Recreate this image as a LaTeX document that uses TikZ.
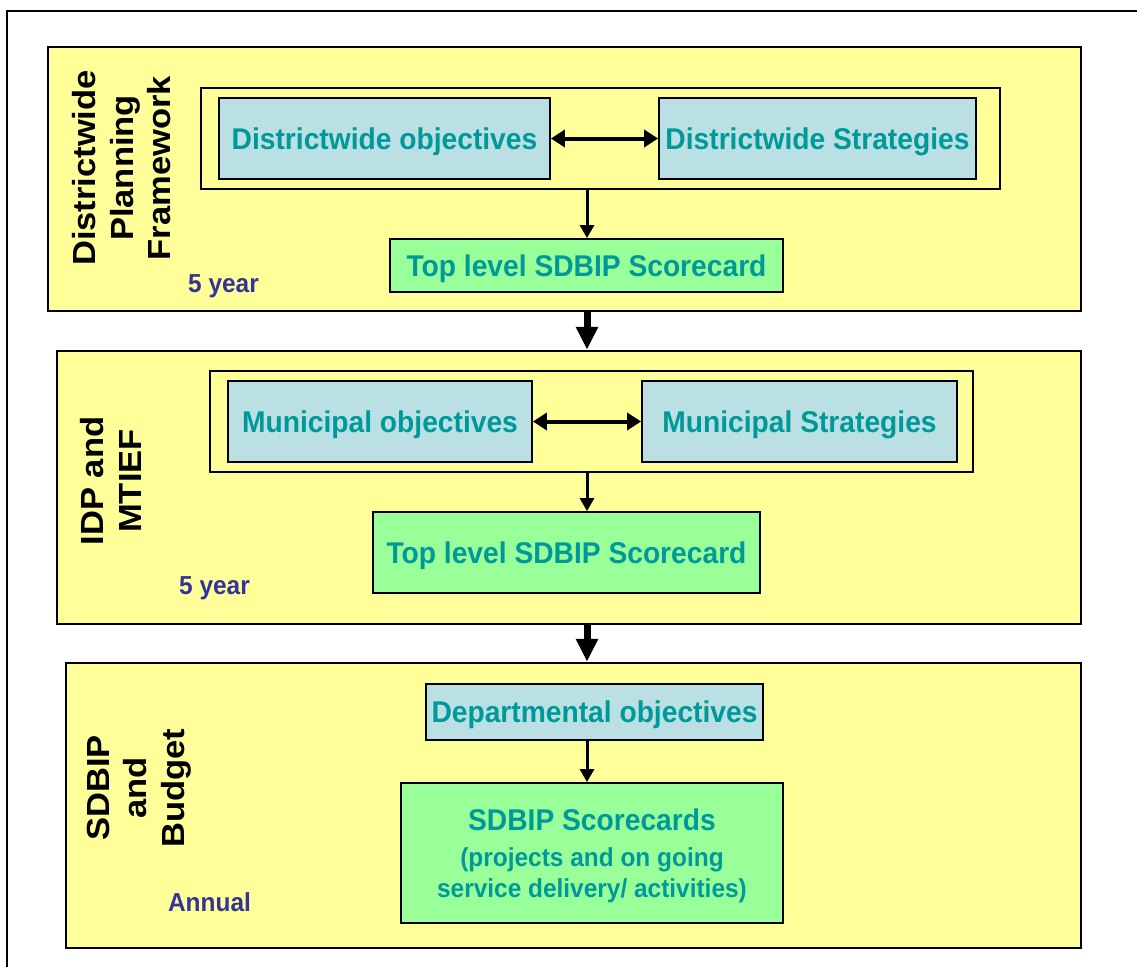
\documentclass[tikz,border=0pt]{standalone}
\usepackage{fontspec}
\setmainfont{Liberation Sans}
\newfontfamily\boxfont[FakeStretch=0.94]{Liberation Sans}
\newfontfamily\sidefont[FakeStretch=1.08]{Liberation Sans}
\usetikzlibrary{arrows.meta}
\definecolor{panelyellow}{HTML}{FFFF99}
\definecolor{boxblue}{HTML}{BBE0E3}
\definecolor{boxgreen}{HTML}{99FF99}
\definecolor{labelteal}{HTML}{009999}
\definecolor{spanblue}{HTML}{333399}

\begin{document}
\begin{tikzpicture}[x=1pt,y=-1pt,
    panel/.style={draw, line width=2.5pt, fill=panelyellow, inner sep=0pt},
    groupframe/.style={draw, line width=1.8pt, inner sep=0pt},
    objbox/.style={draw, line width=1.8pt, fill=boxblue, inner sep=0pt, text=labelteal, text depth=0pt,
        font=\boxfont\bfseries\fontsize{30}{36}\selectfont},
    cardbox/.style={objbox, fill=boxgreen},
    sidelabel/.style={rotate=90, align=center, font=\sidefont\bfseries\fontsize{32}{37.5}\selectfont},
    spanlabel/.style={text=spanblue, font=\boxfont\bfseries\fontsize{26}{31}\selectfont},
    twoway/.style={line width=4pt, {Triangle[length=14pt,width=17pt]}-{Triangle[length=14pt,width=17pt]}},
    feed/.style={line width=3pt, -{Triangle[length=13pt,width=14pt]}},
    bigfeed/.style={line width=7pt, -{Triangle[length=23pt,width=21pt]}}]

        % Page and outer frame
        \useasboundingbox (0,0) rectangle (1137,967);
        \draw[line width=2.5pt] (7,967) -- (7,11) -- (1137,11);
        \coordinate (axis) at (587,0);

        % Districtwide planning framework
        \node[panel, minimum width=1033pt, minimum height=264pt] (P1) at (564.5,179) {};
        \node[groupframe, minimum width=799pt, minimum height=101pt] (G1) at (600.5,138.5) {};
        \node[objbox, minimum width=331pt, minimum height=81pt] (DO) at (384.5,138.5) {Districtwide objectives};
        \node[objbox, minimum width=317pt, minimum height=81pt] (DS) at (817.5,138.5) {Districtwide Strategies};
        \node[cardbox, minimum width=393pt, minimum height=53pt] (TL1) at (586.5,265.5) {Top level SDBIP Scorecard};
        \node[sidelabel] (L1) at (122,168) {Districtwide\\Planning\\Framework};
        \node[spanlabel] (Y1) at (223.5,286) {5 year};

        % IDP and MTIEF
        \node[panel, minimum width=1024pt, minimum height=273pt] (P2) at (569,487.5) {};
        \node[groupframe, minimum width=763pt, minimum height=101pt] (G2) at (591.5,421.5) {};
        \node[objbox, minimum width=304pt, minimum height=81pt] (MO) at (380,421.5) {Municipal objectives};
        \node[objbox, minimum width=315pt, minimum height=81pt] (MS) at (799.5,421.5) {Municipal Strategies};
        \node[cardbox, minimum width=387pt, minimum height=81pt] (TL2) at (566.5,552.5) {Top level SDBIP Scorecard};
        \node[sidelabel] (L2) at (111,481) {IDP and\\MTIEF};
        \node[spanlabel] (Y2) at (214.5,588) {5 year};

        % SDBIP and budget
        \node[panel, minimum width=1015pt, minimum height=285pt] (P3) at (573.5,805.5) {};
        \node[objbox, minimum width=337pt, minimum height=56pt] (DepO) at (594.5,712) {Departmental objectives};
        \node[cardbox, minimum width=382pt, minimum height=140pt, align=center,
            font=\boxfont\bfseries\fontsize{26}{31}\selectfont] (SC) at (592,853)
            {{\fontsize{30}{36}\selectfont SDBIP Scorecards}\\[4.6pt](projects and on going\\service delivery/ activities)};
        \node[sidelabel] (L3) at (139,788) {SDBIP\\and\\Budget};
        \node[spanlabel] (Y3) at (209.5,902) {Annual};

        % Draw links
        \draw[twoway] (DO) -- (DS);
        \draw[twoway] (MO) -- (MS);
        \draw[feed] (G1.south -| axis) -- (TL1.north -| axis);
        \draw[feed] (G2.south -| axis) -- (TL2.north -| axis);
        \draw[feed] (DepO.south -| axis) -- (SC.north -| axis);
        \draw[bigfeed] (P1.south -| axis) -- (P2.north -| axis);
        \draw[bigfeed] (P2.south -| axis) -- (P3.north -| axis);

\end{tikzpicture}
\end{document}
